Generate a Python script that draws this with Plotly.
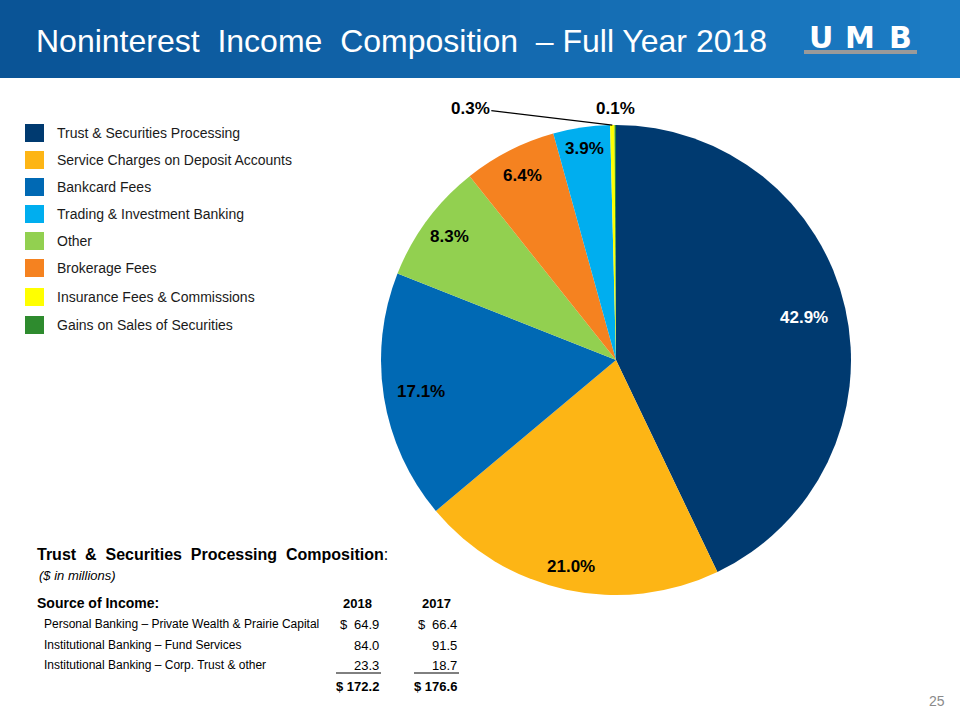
import math
import plotly.graph_objects as go

# ---------------- data ----------------
slice_labels = ["Trust & Securities Processing", "Service Charges on Deposit Accounts",
                "Bankcard Fees", "Other", "Brokerage Fees", "Trading & Investment Banking",
                "Insurance Fees & Commissions", "Gains on Sales of Securities"]
slice_values = [42.9, 21.0, 17.1, 8.3, 6.4, 3.9, 0.3, 0.1]
slice_colors = ["#003A70", "#FDB515", "#0069B4", "#92D050", "#F58220", "#00AEEF",
                "#FFFF00", "#2E8B2E"]

legend_order = ["Trust & Securities Processing", "Service Charges on Deposit Accounts",
                "Bankcard Fees", "Trading & Investment Banking", "Other", "Brokerage Fees",
                "Insurance Fees & Commissions", "Gains on Sales of Securities"]

table_sources = ["Personal Banking – Private Wealth & Prairie Capital",
                 "Institutional Banking – Fund Services",
                 "Institutional Banking – Corp. Trust & other"]
table_2018 = [64.9, 84.0, 23.3]
table_2017 = [66.4, 91.5, 18.7]
total_2018 = 172.2
total_2017 = 176.6

W, H = 960, 720
FONT = "Liberation Sans, Arial, sans-serif"


def px(x):
    return x / W


def py(y):
    return 1 - y / H


fig = go.Figure()

# ---------------- pie ----------------
cx, cy, r = 616, 360, 235
fig.add_trace(go.Pie(
    labels=slice_labels, values=slice_values, sort=False, direction="clockwise",
    rotation=0,
    marker=dict(colors=slice_colors, line=dict(width=0)),
    textinfo="none",
    showlegend=False, hoverinfo="label+value",
    domain=dict(x=[px(cx - r), px(cx + r)], y=[py(cy + r), py(cy - r)]),
))

shapes = []
annotations = []

# slice labels positioned from the data (angle of each slice's middle)
label_radius = [0.82, 0.90, 0.84, 0.88, 0.88, 0.91]   # style: radial placement
label_color = ["white", "black", "black", "black", "black", "black"]
total = sum(slice_values)
cum = 0.0
mids = []
for v in slice_values:
    mids.append(2 * math.pi * (cum + v / 2) / total)
    cum += v
for i, k in enumerate(label_radius):
    th = mids[i]
    x = cx + k * r * math.sin(th)
    y = cy - k * r * math.cos(th)
    annotations.append(dict(text="<b>%.1f%%</b>" % slice_values[i], xref="paper",
                            yref="paper", x=px(x), y=py(y), showarrow=False,
                            xanchor="center", yanchor="middle",
                            font=dict(family=FONT, size=17, color=label_color[i])))
# tiny slices: outside labels
th = mids[6]
ex, ey = cx + r * math.sin(th), cy - r * math.cos(th)
annotations.append(dict(text="<b>%.1f%%</b>" % slice_values[6], xref="paper", yref="paper",
                        x=px(ex), y=py(ey), showarrow=True, arrowhead=0, arrowwidth=1.3,
                        arrowcolor="black", ax=-142, ay=-17, standoff=0,
                        font=dict(family=FONT, size=17, color="black")))
th = mids[7]
ex, ey = cx + r * math.sin(th), cy - r * math.cos(th)
annotations.append(dict(text="<b>%.1f%%</b>" % slice_values[7], xref="paper", yref="paper",
                        x=px(ex), y=py(ey), showarrow=False, yshift=17,
                        xanchor="center", yanchor="middle",
                        font=dict(family=FONT, size=17, color="black")))

# ---------------- title bar ----------------
n_strips = 24
c0 = (10, 84, 150)
c1 = (28, 124, 196)
for i in range(n_strips):
    t = i / (n_strips - 1)
    col = tuple(int(c0[k] + (c1[k] - c0[k]) * t) for k in range(3))
    shapes.append(dict(type="rect", xref="paper", yref="paper",
                       x0=i / n_strips, x1=(i + 1) / n_strips + 0.002,
                       y0=py(78), y1=1, fillcolor="rgb(%d,%d,%d)" % col,
                       line=dict(width=0), layer="below"))
annotations.append(dict(text="Noninterest  Income  Composition  – Full Year 2018",
                        xref="paper", yref="paper", x=px(34), y=py(41),
                        xanchor="left", yanchor="middle", showarrow=False,
                        font=dict(family=FONT, size=32, color="white")))
# logo
for letter, lx in [("U", 821), ("M", 860), ("B", 900)]:
    annotations.append(dict(text="<b>%s</b>" % letter, xref="paper", yref="paper",
                            x=px(lx), y=py(37.5), xanchor="center", yanchor="middle",
                            showarrow=False,
                            font=dict(family="DejaVu Sans, sans-serif", size=30,
                                      color="white")))
shapes.append(dict(type="rect", xref="paper", yref="paper", x0=px(804), x1=px(917),
                   y0=py(54), y1=py(50), fillcolor="#9A9A9A", line=dict(width=0)))

# ---------------- manual legend ----------------
legend_y = [133, 160, 187, 214, 241, 268, 297, 325]
for name, yy in zip(legend_order, legend_y):
    col = slice_colors[slice_labels.index(name)]
    shapes.append(dict(type="rect", xref="paper", yref="paper", x0=px(25), x1=px(44),
                       y0=py(yy + 9), y1=py(yy - 9), fillcolor=col, line=dict(width=0)))
    annotations.append(dict(text=name, xref="paper", yref="paper", x=px(55), y=py(yy),
                            xanchor="left", yanchor="middle", showarrow=False,
                            font=dict(family=FONT, size=14, color="#1a1a1a")))

# ---------------- table ----------------
annotations.append(dict(text="<b>Trust  &  Securities  Processing  Composition</b>:",
                        xref="paper", yref="paper", x=px(35), y=py(554),
                        xanchor="left", yanchor="middle", showarrow=False,
                        font=dict(family=FONT, size=16, color="black")))
annotations.append(dict(text="<i>($ in millions)</i>", xref="paper", yref="paper",
                        x=px(37), y=py(575), xanchor="left", yanchor="middle",
                        showarrow=False, font=dict(family=FONT, size=13, color="black")))
annotations.append(dict(text="<b>Source of Income:</b>", xref="paper", yref="paper",
                        x=px(35), y=py(603), xanchor="left", yanchor="middle",
                        showarrow=False, font=dict(family=FONT, size=14, color="black")))
for txt, xx in [("2018", 357), ("2017", 436)]:
    annotations.append(dict(text="<b>%s</b>" % txt, xref="paper", yref="paper",
                            x=px(xx), y=py(603), xanchor="center", yanchor="middle",
                            showarrow=False, font=dict(family=FONT, size=13, color="black")))

row_y = [624, 645, 665]
for i, (src, v18, v17, yy) in enumerate(zip(table_sources, table_2018, table_2017, row_y)):
    annotations.append(dict(text=src, xref="paper", yref="paper", x=px(42), y=py(yy),
                            xanchor="left", yanchor="middle", showarrow=False,
                            font=dict(family=FONT, size=12, color="black")))
    for v, xl, xr in [(v18, 336, 381), (v17, 414, 459)]:
        if i == 0:
            annotations.append(dict(text="$", xref="paper", yref="paper", x=px(xl + 2),
                                    y=py(yy), xanchor="left", yanchor="middle",
                                    showarrow=False,
                                    font=dict(family=FONT, size=13, color="black")))
        annotations.append(dict(text="%.1f" % v, xref="paper", yref="paper", x=px(xr),
                                y=py(yy), xanchor="right", yanchor="middle",
                                showarrow=False,
                                font=dict(family=FONT, size=13, color="black")))
        if i == len(table_sources) - 1:
            shapes.append(dict(type="line", xref="paper", yref="paper", x0=px(xl),
                               x1=px(xr), y0=py(yy + 8), y1=py(yy + 8),
                               line=dict(color="black", width=1)))

for v, xr in [(total_2018, 381), (total_2017, 459)]:
    annotations.append(dict(text="<b>$ %.1f</b>" % v, xref="paper", yref="paper", x=px(xr),
                            y=py(686), xanchor="right", yanchor="middle", showarrow=False,
                            font=dict(family=FONT, size=13, color="black")))

# page number
annotations.append(dict(text="25", xref="paper", yref="paper", x=px(947), y=py(701),
                        xanchor="right", yanchor="middle", showarrow=False,
                        font=dict(family=FONT, size=14, color="#8a8a8a")))

fig.update_layout(width=W, height=H, margin=dict(l=0, r=0, t=0, b=0),
                  paper_bgcolor="white", plot_bgcolor="white",
                  shapes=shapes, annotations=annotations, showlegend=False)

fig.write_html("out.html", config={"displayModeBar": False},
               post_script="document.body.style.margin='0px';"
                           "document.body.style.overflow='hidden';")
